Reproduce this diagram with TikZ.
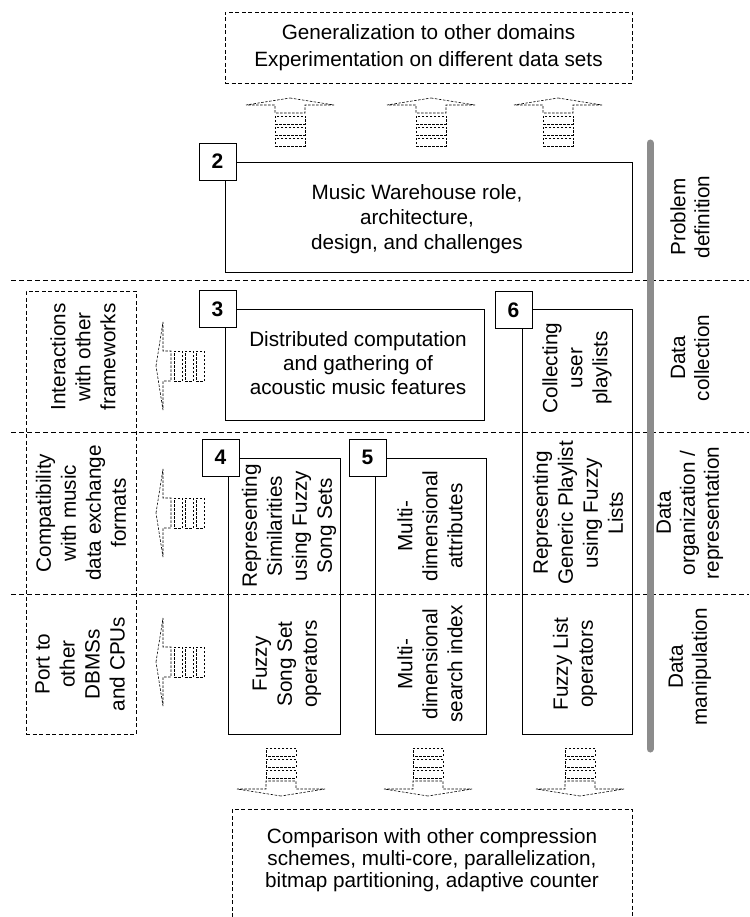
\documentclass[tikz,border=0pt]{standalone}
\usepackage{fontspec}
\setmainfont{Liberation Sans}
\definecolor{bargray}{RGB}{140,140,140}
\tikzset{
  lab/.style={font=\fontsize{20.7}{25}\selectfont, align=center, inner sep=0pt},
  numbox/.style={draw, line width=0.9pt, fill=white, minimum width=37pt, minimum height=37pt, inner sep=0pt, font=\bfseries\fontsize{21}{25}\selectfont},
  mainbox/.style={draw, line width=0.9pt, inner sep=0pt},
  ddash/.style={draw, line width=0.8pt, dash pattern=on 4pt off 2.5pt, inner sep=0pt},
  sepline/.style={line width=0.8pt, dash pattern=on 5pt off 3pt},
  arrdash/.style={line width=0.6pt, dash pattern=on 2.5pt off 1.5pt, line join=miter},
  striparrow/.pic={
    \draw[arrdash] (0,0) -- (44,7) -- (15,7) -- (15,15) -- (-15,15) -- (-15,7) -- (-44,7) -- cycle;
    \draw[arrdash] (-15,18) rectangle (15,26);
    \draw[arrdash] (-15,29) rectangle (15,37);
    \draw[arrdash] (-15,40) rectangle (15,48);
  }
}
\begin{document}
\begin{tikzpicture}[x=1pt,y=-1pt]
\useasboundingbox (0,0) rectangle (749,917);

% row separators
\coordinate (s1a) at (11,280); \coordinate (s1b) at (749,280);
\coordinate (s2a) at (11,432); \coordinate (s2b) at (749,432);
\coordinate (s3a) at (11,594); \coordinate (s3b) at (749,594);
\draw[sepline] (s1a) -- (s1b);
\draw[sepline] (s2a) -- (s2b);
\draw[sepline] (s3a) -- (s3b);

% gray phase bar
\coordinate (bartop) at (650,143);
\coordinate (barbot) at (650,749);
\draw[line width=7pt, line cap=round, bargray] (bartop) -- (barbot);

% top dashed box
\node[ddash, minimum width=407pt, minimum height=71pt, lab, font=\fontsize{20.7}{27}\selectfont] (top) at (428.5,47.5)
  {Generalization to other domains\\Experimentation on different data sets};

% bottom dashed box (open at the bottom edge of the picture)
\coordinate (bb1) at (232,917); \coordinate (bb2) at (232,809);
\coordinate (bb3) at (632,809); \coordinate (bb4) at (632,917);
\draw[line width=0.8pt, dash pattern=on 4pt off 2.5pt] (bb1) -- (bb2) -- (bb3) -- (bb4);
\node[lab, font=\fontsize{20.7}{21.7}\selectfont] (bottom) at (432,860)
  {Comparison with other compression\\schemes, multi-core, parallelization,\\bitmap partitioning, adaptive counter};

% left dashed column
\node[ddash, minimum width=110pt, minimum height=443pt] (leftcol) at (81,512.5) {};
\node[lab, rotate=90] (l2) at (83,357) {Interactions\\with other\\frameworks};
\node[lab, rotate=90] (l3) at (81,513) {Compatibility\\with music\\data exchange\\formats};
\node[lab, rotate=90] (l4) at (80,664) {Port to\\other\\DBMSs\\and CPUs};

% main boxes
\node[mainbox, minimum width=407pt, minimum height=110pt] (b2) at (428.5,217) {};
\node[mainbox, minimum width=259pt, minimum height=111pt] (b3) at (354.5,364.5) {};
\node[mainbox, minimum width=112pt, minimum height=276pt] (b4) at (284,596) {};
\node[mainbox, minimum width=111pt, minimum height=276pt] (b5) at (430.5,596) {};
\node[mainbox, minimum width=110pt, minimum height=425pt] (b6) at (577,521.5) {};

% box texts
\node[lab] (t2) at (417,219) {Music Warehouse role,\\architecture,\\design, and challenges};
\node[lab, font=\fontsize{20.7}{24}\selectfont] (t3) at (358,363) {Distributed computation\\and gathering of\\acoustic music features};
\node[lab, rotate=90] (t4a) at (289,526) {Representing\\Similarities\\using Fuzzy\\Song Sets};
\node[lab, rotate=90] (t4b) at (287,664) {Fuzzy\\Song Set\\operators};
\node[lab, rotate=90] (t5a) at (430,526) {Multi-\\dimensional\\attributes};
\node[lab, rotate=90] (t5b) at (430,664) {Multi-\\dimensional\\search index};
\node[lab, rotate=90] (t6a) at (577,368) {Collecting\\user\\playlists};
\node[lab, rotate=90] (t6b) at (578,513) {Representing\\Generic Playlist\\using Fuzzy\\Lists};
\node[lab, rotate=90] (t6c) at (575,664) {Fuzzy List\\operators};

% number boxes
\node[numbox] (n2) at (217.5,161.5) {2};
\node[numbox] (n3) at (217.5,309) {3};
\node[numbox] (n4) at (220.5,457.5) {4};
\node[numbox] (n5) at (367.5,457.5) {5};
\node[numbox] (n6) at (513.5,310) {6};

% phase labels
\node[lab, rotate=90, font=\fontsize{20.7}{24}\selectfont] (p1) at (690,217) {Problem\\definition};
\node[lab, rotate=90, font=\fontsize{20.7}{24}\selectfont] (p2) at (690,358) {Data\\collection};
\node[lab, rotate=90, font=\fontsize{20.7}{24}\selectfont] (p3) at (690,513) {Data\\organization /\\representation};
\node[lab, rotate=90, font=\fontsize{20.7}{24}\selectfont] (p4) at (690,667) {Data\\manipulation};

% striped arrows
\pic (ua1) at (290,98) {striparrow};
\pic (ua2) at (431,98) {striparrow};
\pic (ua3) at (558,98) {striparrow};
\pic[rotate=90] (la2) at (156,366) {striparrow};
\pic[rotate=90] (la3) at (156,513) {striparrow};
\pic[rotate=90] (la4) at (156,662) {striparrow};
\pic[rotate=180] (da1) at (281,796) {striparrow};
\pic[rotate=180] (da2) at (428,796) {striparrow};
\pic[rotate=180] (da3) at (580,796) {striparrow};
\end{tikzpicture}
\end{document}
